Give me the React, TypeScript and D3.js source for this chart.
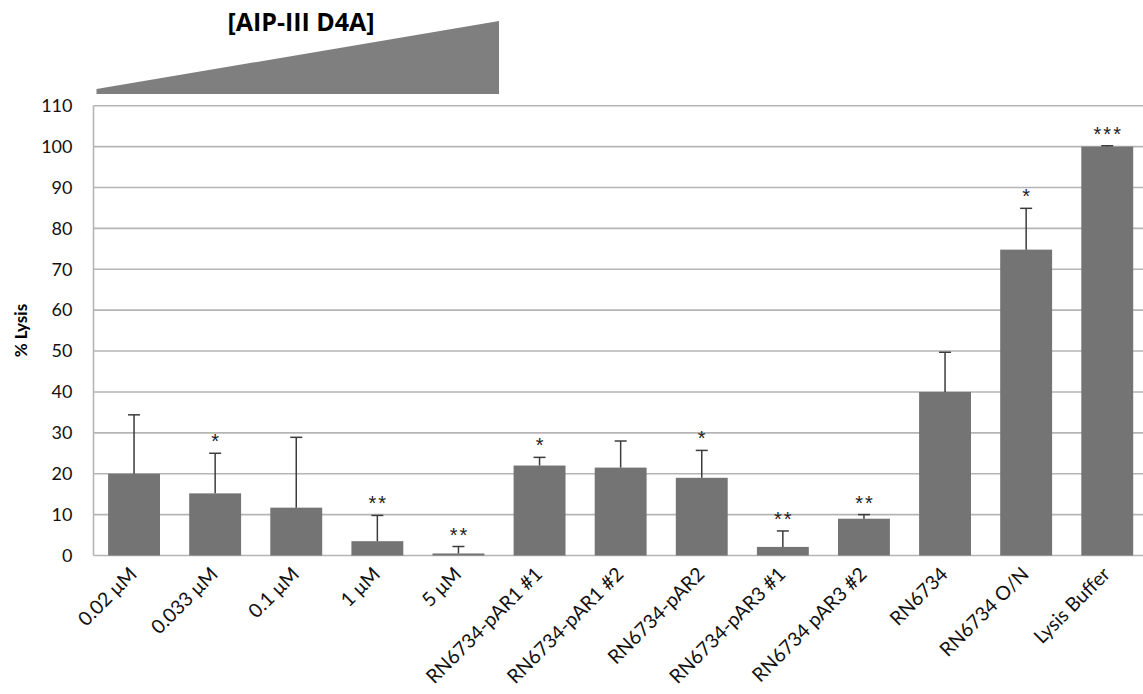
import React from 'react';
import {scaleBand, scaleLinear, range} from 'd3';

// data
const categories = ['0.02 μM', '0.033 μM', '0.1 μM', '1 μM', '5 μM', 'RN6734-pAR1 #1', 'RN6734-pAR1 #2',
    'RN6734-pAR2', 'RN6734-pAR3 #1', 'RN6734 pAR3 #2', 'RN6734', 'RN6734 O/N', 'Lysis Buffer'];
const lysis = [20, 15.2, 11.7, 3.5, 0.5, 22, 21.5, 19, 2.1, 9, 40, 74.8, 100];
const errUp = [14.4, 9.8, 17.2, 6.3, 1.7, 2, 6.5, 6.7, 3.9, 1, 9.7, 10.1, 0.2];
const signif = ['', '*', '', '**', '**', '*', '', '*', '**', '**', '', '*', '***'];
const yTicks = range(0, 111, 10);
const rampCount = 5; // the first 5 bars are the AIP-III D4A doses

const W = 1143, H = 694;
const left = 93.5, top = 105.7, bottom = 555.5;
const step = 81.1;
const font = 'Lato, "Open Sans", sans-serif';

const App = () => {
    const x = scaleBand<string>()
        .domain(categories)
        .range([left, left + step * categories.length])
        .paddingInner(0.36)
        .paddingOuter(0.18);

    const y = scaleLinear().domain([0, 110]).range([bottom, top]);

    const rampX0 = x.range()[0] + 3;
    const rampX1 = x.range()[0] + x.step() * rampCount;

    return (
        <svg width={W} height={H} style={{position: 'absolute', left: 0, top: 0}}>
            <rect width={W} height={H} fill="#fff"/>
            {/* concentration ramp */}
            <polygon points={`${rampX0},89 ${rampX1},21 ${rampX1},94 ${rampX0},94`} fill="#7f7f7f"/>
            <text x={301} y={31} textAnchor="middle" fontFamily='"Open Sans", sans-serif'
                  fontWeight="bold" fontSize={25} fill="#000">[AIP-III D4A]</text>

            {/* grid + y axis */}
            {yTicks.map(t => (
                <g key={t}>
                    <line x1={left} x2={W} y1={y(t)} y2={y(t)} stroke="#b5b5b5" strokeWidth={1.6}/>
                    <text x={left - 21} y={y(t)} dy="0.35em" textAnchor="end" fontFamily={font}
                          fontSize={18} fill="#111">{t}</text>
                </g>
            ))}
            <line x1={left} x2={left} y1={top} y2={bottom} stroke="#b5b5b5" strokeWidth={1.6}/>
            <text transform={`translate(21,${(top + bottom) / 2}) rotate(-90)`} textAnchor="middle"
                  dy="0.35em" fontFamily={font} fontWeight="bold" fontSize={17} fill="#000">% Lysis</text>

            {/* bars */}
            {categories.map((c, i) => {
                const bx = x(c) as number;
                const cx = bx + x.bandwidth() / 2;
                const yTop = y(lysis[i] + errUp[i]);
                return (
                    <g key={c}>
                        <rect x={bx} y={y(lysis[i])} width={x.bandwidth()} height={bottom - y(lysis[i])}
                              fill="#747474"/>
                        <line x1={cx} x2={cx} y1={y(lysis[i])} y2={yTop} stroke="#3c3c3c" strokeWidth={1.5}/>
                        <line x1={cx - 6} x2={cx + 6} y1={yTop} y2={yTop} stroke="#3c3c3c" strokeWidth={1.5}/>
                        {signif[i] && (
                            <text x={cx + 1} y={yTop - 5} textAnchor="middle" fontFamily='"Liberation Sans", sans-serif'
                                  fontSize={20} letterSpacing={2} fill="#222">{signif[i]}</text>
                        )}
                        <text transform={`translate(${cx + 4},${bottom + 20}) rotate(-45)`} textAnchor="end"
                              fontFamily={font} fontSize={19.5} fill="#111">{c}</text>
                    </g>
                );
            })}
        </svg>
    );
};

export default App;
